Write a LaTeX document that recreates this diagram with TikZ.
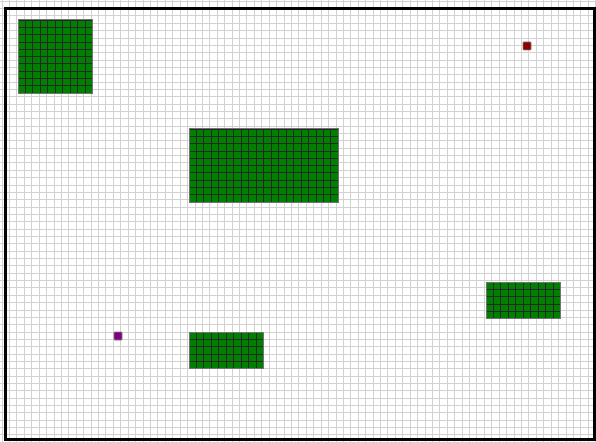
\documentclass[tikz,border=0pt]{standalone}
\usepackage{tikz}
\definecolor{gridgrey}{RGB}{210,210,210}
\definecolor{blockgreen}{RGB}{0,128,0}
\definecolor{goalred}{RGB}{140,0,0}
\definecolor{agentpurple}{RGB}{128,0,128}
\tikzset{
  gridline/.style={line width=1pt,gridgrey},
  cell/.style={fill=blockgreen,draw=black!85,line width=0.9pt},
  blockrim/.style={draw=black!55,line width=1pt},
  wall/.style={line width=3pt,black},
  marker/.style={draw=black!50,line width=0.6pt,rounded corners=0.6pt}
}

\begin{document}
\begin{tikzpicture}[x=1pt,y=-1pt]
\useasboundingbox (0,0) rectangle (596,443);
\fill[white] (0,0) rectangle (596,443);
% background grid
\foreach \i in {0,...,80}
  \draw[gridline] ({2.1+7.42*\i},0) -- ({2.1+7.42*\i},443);
\foreach \j in {0,...,60}
  \draw[gridline] (0,{1.3+7.35*\j}) -- (596,{1.3+7.35*\j});
% obstacle blocks: left/top/columns/rows
\foreach \bx/\by/\nc/\nr in {18/20/10/10,189/129/20/10,189/332/10/5,486/282/10/5}{
  \foreach \c in {1,...,\nc}
    \foreach \r in {1,...,\nr}
      \draw[cell] ({\bx+7.47*(\c-1)},{\by+7.32*(\r-1)})
        rectangle ++(7.47,7.32);
  \draw[blockrim] (\bx,\by) rectangle ++({7.47*\nc},{7.32*\nr});
}
% goal and agent
\filldraw[marker,fill=goalred] (523,42) rectangle (531,50);
\filldraw[marker,fill=agentpurple] (114,332) rectangle (122,340);
% outer wall
\draw[wall] (5,9) rectangle (594,439);
\end{tikzpicture}
\end{document}
